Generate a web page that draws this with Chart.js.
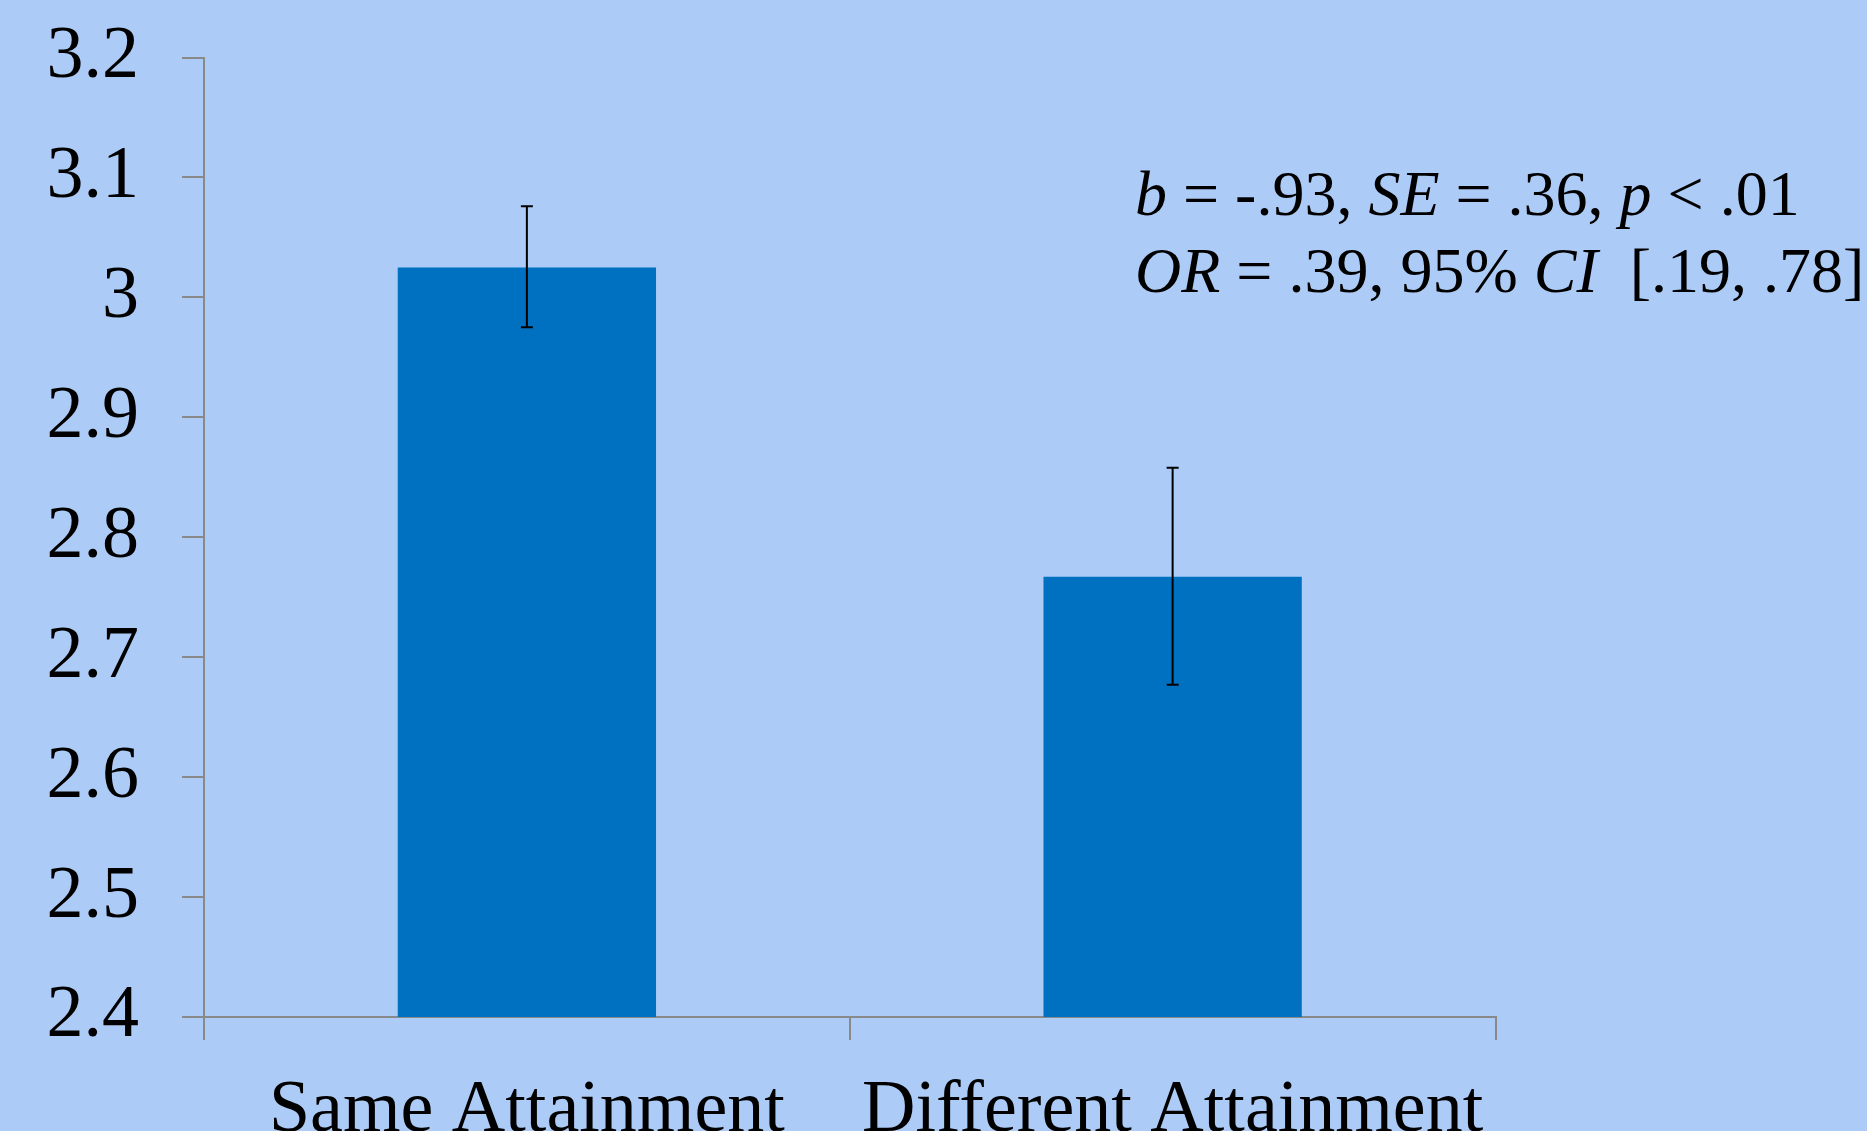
<!DOCTYPE html>
<html>
<head>
<meta charset="utf-8">
<script src="https://cdn.jsdelivr.net/npm/chart.js@4.4.1/dist/chart.umd.min.js"></script>
<style>
  html, body { margin: 0; padding: 0; background: #ADCBF7; overflow: hidden; }
  #wrap { position: relative; width: 1867px; height: 1131px; }
</style>
</head>
<body>
<div id="wrap"><canvas id="chart" width="1867" height="1131"></canvas></div>
<script>
// Mean ratings by group, with the ends of each error bar
const categories = ['Same Attainment', 'Different Attainment'];
const means = [3.025, 2.767];
const errLower = [2.975, 2.677];
const errUpper = [3.076, 2.858];

// Value axis
const yMin = 2.4;
const yMax = 3.2;
const yStep = 0.1;
const yTickLabels = ['2.4', '2.5', '2.6', '2.7', '2.8', '2.9', '3', '3.1', '3.2'];

// Regression summary, as [text, italic] runs
const statLine1 = [['b', true], [' = -.93, ', false], ['SE', true], [' = .36, ', false], ['p', true], [' < .01', false]];
const statLine2 = [['OR', true], [' = .39, 95% ', false], ['CI', true], ['  [.19, .78]', false]];

const SERIF = '"Times New Roman", "Liberation Serif", serif';
const BG = '#ADCBF7';
const AXIS = '#898989';

const background = {
  id: 'background',
  beforeDraw(chart) {
    const ctx = chart.ctx;
    ctx.save();
    ctx.fillStyle = BG;
    ctx.fillRect(0, 0, chart.width, chart.height);
    ctx.restore();
  }
};

const errorBars = {
  id: 'errorBars',
  afterDatasetsDraw(chart) {
    const ctx = chart.ctx;
    const y = chart.scales.y;
    const meta = chart.getDatasetMeta(0);
    const cap = 6;
    ctx.save();
    ctx.strokeStyle = '#000';
    ctx.lineWidth = 2;
    meta.data.forEach((bar, i) => {
      const top = y.getPixelForValue(errUpper[i]);
      const bot = y.getPixelForValue(errLower[i]);
      ctx.beginPath();
      ctx.moveTo(bar.x, top); ctx.lineTo(bar.x, bot);
      ctx.moveTo(bar.x - cap, top); ctx.lineTo(bar.x + cap, top);
      ctx.moveTo(bar.x - cap, bot); ctx.lineTo(bar.x + cap, bot);
      ctx.stroke();
    });
    ctx.restore();
  }
};

const statsText = {
  id: 'statsText',
  afterDraw(chart) {
    const ctx = chart.ctx;
    const area = chart.chartArea;
    const size = 64;
    const x0 = area.left + 931;
    const lines = [[statLine1, area.top + 157.5], [statLine2, area.top + 234.5]];
    ctx.save();
    ctx.fillStyle = '#000';
    ctx.textBaseline = 'alphabetic';
    ctx.textAlign = 'left';
    lines.forEach(([runs, baseY]) => {
      let x = x0;
      runs.forEach(([txt, italic]) => {
        ctx.font = (italic ? 'italic ' : '') + size + 'px ' + SERIF;
        ctx.fillText(txt, x, baseY);
        x += ctx.measureText(txt).width;
      });
    });
    ctx.restore();
  }
};

new Chart(document.getElementById('chart'), {
  type: 'bar',
  data: {
    labels: categories,
    datasets: [{
      data: means,
      backgroundColor: '#0070C0',
      borderWidth: 0,
      barPercentage: 0.4,
      categoryPercentage: 1.0
    }]
  },
  options: {
    responsive: false,
    animation: false,
    devicePixelRatio: 1,
    layout: { padding: { left: 0, top: 57.5, right: 371.5, bottom: 0 } },
    plugins: {
      legend: { display: false },
      tooltip: { enabled: false }
    },
    scales: {
      x: {
        grid: { offset: true, drawOnChartArea: false, drawTicks: true, tickLength: 23, color: AXIS, lineWidth: 2 },
        border: { display: true, color: AXIS, width: 2 },
        ticks: { color: '#000', font: { family: SERIF, size: 74 }, padding: 27, maxRotation: 0, autoSkip: false },
        afterFit(scale) { scale.height = 114; }
      },
      y: {
        min: yMin,
        max: yMax,
        grid: { drawOnChartArea: false, drawTicks: true, tickLength: 22, color: AXIS, lineWidth: 2 },
        border: { display: true, color: AXIS, width: 2 },
        ticks: {
          stepSize: yStep,
          color: '#000',
          font: { family: SERIF, size: 74 },
          padding: 43,
          callback: (value, index) => yTickLabels[index]
        },
        afterFit(scale) {
          scale.width = 204;
          scale.paddingTop = 0;
          scale.paddingBottom = 0;
        }
      }
    }
  },
  plugins: [background, errorBars, statsText]
});
</script>
</body>
</html>
